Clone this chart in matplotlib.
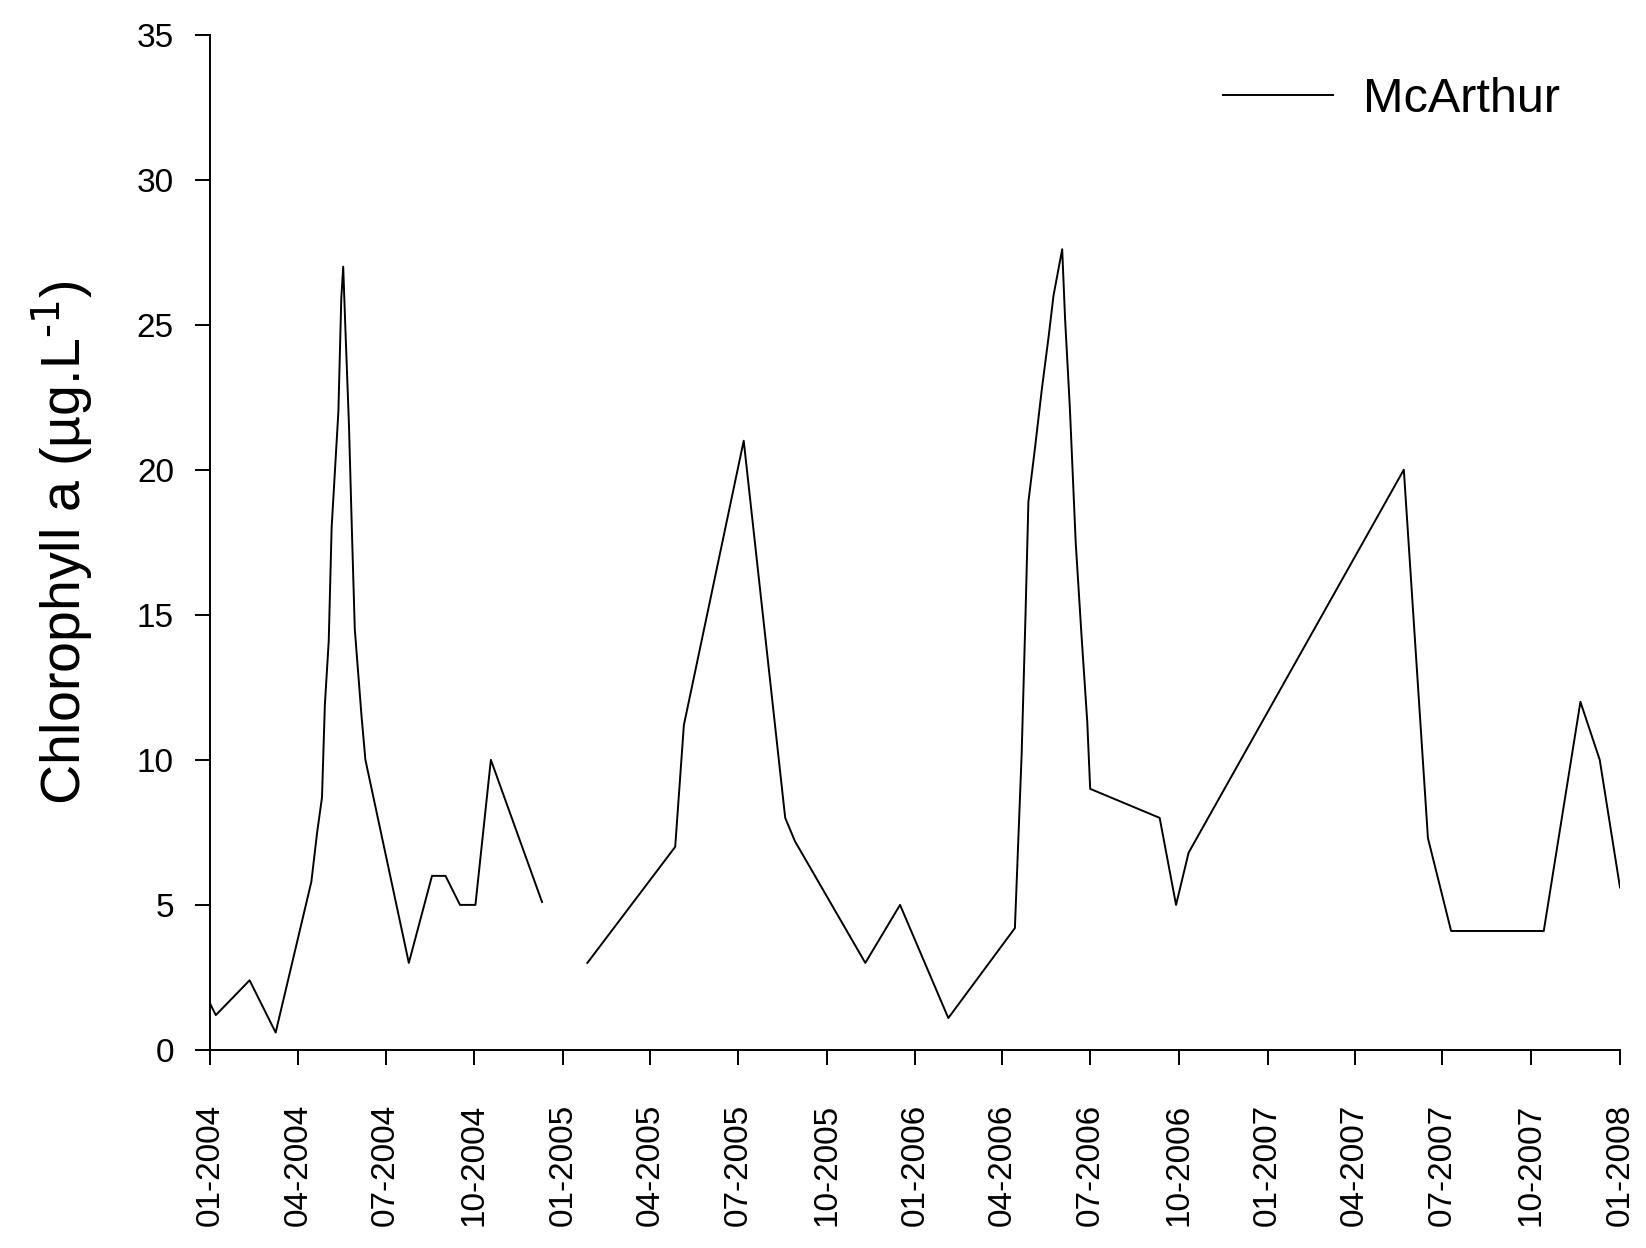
import numpy as np
import matplotlib
matplotlib.use('Agg')
import matplotlib.pyplot as plt
import matplotlib.dates as mdates

# McArthur chlorophyll a samples; NaN marks the gap in sampling over new year 2005
dates = [
    "2004-01-01", "2004-01-07", "2004-02-11", "2004-03-09", "2004-04-15",
    "2004-04-21", "2004-04-26", "2004-04-29", "2004-05-03", "2004-05-06",
    "2004-05-13", "2004-05-16", "2004-05-18", "2004-05-20", "2004-05-24",
    "2004-05-27", "2004-05-30", "2004-06-06", "2004-06-10", "2004-07-25",
    "2004-08-18", "2004-09-01", "2004-09-16", "2004-10-02", "2004-10-18",
    "2004-12-10", "2004-12-31",
    "2005-01-26", "2005-04-27", "2005-05-06", "2005-07-07", "2005-08-19",
    "2005-08-29", "2005-11-10", "2005-12-16", "2006-02-04", "2006-04-14",
    "2006-04-21", "2006-04-25", "2006-04-28", "2006-05-05", "2006-05-12",
    "2006-05-19", "2006-05-24", "2006-06-02", "2006-06-05", "2006-06-10",
    "2006-06-16", "2006-06-22", "2006-06-28", "2006-07-01", "2006-09-11",
    "2006-09-28", "2006-10-11", "2007-05-22", "2007-06-16", "2007-07-10",
    "2007-10-14", "2007-11-21", "2007-12-11", "2008-01-01",
]
chl_a = [
    1.6, 1.2, 2.4, 0.6, 5.8,
    7.5, 8.7, 11.9, 14.1, 18.0,
    22.0, 25.9, 27.0, 25.1, 21.5,
    17.9, 14.5, 11.5, 10.0, 3.0,
    6.0, 6.0, 5.0, 5.0, 10.0,
    5.1, np.nan,
    3.0, 7.0, 11.2, 21.0, 8.0,
    7.2, 3.0, 5.0, 1.1, 4.2,
    10.2, 15.0, 18.9, 20.8, 22.8,
    24.6, 26.0, 27.6, 25.2, 22.1,
    17.5, 14.3, 11.3, 9.0, 8.0,
    5.0, 6.8, 20.0, 7.3, 4.1,
    4.1, 12.0, 10.0, 5.6,
]
site = "McArthur"

plt.rcParams['font.family'] = ['Liberation Sans', 'DejaVu Sans']
plt.rcParams['mathtext.default'] = 'regular'

x = np.array(dates, dtype='datetime64[D]')
y = np.array(chl_a)

fig = plt.figure(figsize=(16.46, 12.48), dpi=100)
ax = fig.add_axes([0.1276, 0.1587, 0.8566, 0.8136])

ax.plot(x, y, color='black', lw=1.4, label=site)

ax.set_xlim(np.datetime64('2004-01-01'), np.datetime64('2008-01-01'))
ax.set_ylim(0, 35)
ax.set_yticks(range(0, 36, 5))
ax.xaxis.set_major_locator(mdates.MonthLocator(bymonth=[1, 4, 7, 10]))
ax.xaxis.set_major_formatter(mdates.DateFormatter('%m-%Y'))

for s in ['top', 'right']:
    ax.spines[s].set_visible(False)
for s in ['left', 'bottom']:
    ax.spines[s].set_linewidth(1.4)

ax.tick_params(axis='both', direction='out', length=11, width=1.4, labelsize=24)
ax.tick_params(axis='y', pad=15)
ax.tick_params(axis='x', pad=28, labelrotation=90)

# plain hyphen in the exponent rather than the math minus sign
ax.set_ylabel(u'Chlorophyll a (\u00b5g.L$^{\\text{-1}}$)', fontsize=40)
ax.yaxis.set_label_coords(-0.081, 0.5)

leg = ax.legend(loc='center left', bbox_to_anchor=(0.743, 0.9203),
                bbox_transform=fig.transFigure, frameon=False, fontsize=35,
                handlelength=2.26, handletextpad=0.62, borderpad=0,
                borderaxespad=0)

fig.savefig('out.png', dpi=100)
plt.close(fig)
